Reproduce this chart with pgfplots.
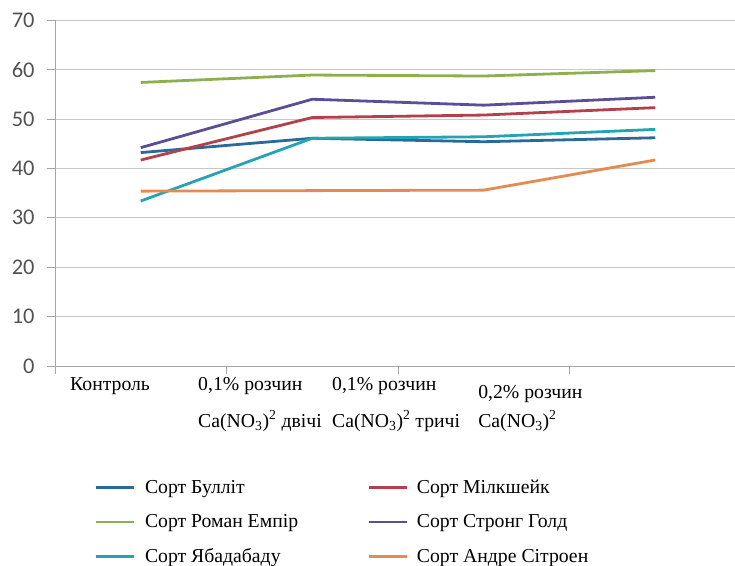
\documentclass[border=0pt]{standalone}
\usepackage{fontspec}
\setmainfont{Liberation Serif}
\newfontfamily\calibri{Carlito}
\usepackage{pgfplots}
\pgfplotsset{compat=1.18}
\definecolor{cBul}{HTML}{2A6A9A}
\definecolor{cMil}{HTML}{B3404A}
\definecolor{cRom}{HTML}{8CB050}
\definecolor{cStr}{HTML}{5B4E96}
\definecolor{cYab}{HTML}{24A3B3}
\definecolor{cAnd}{HTML}{E58A50}
\definecolor{axgray}{HTML}{A6A6A6}
\definecolor{gridgray}{HTML}{C8C8C8}
\begin{document}
\begin{tikzpicture}
\path[use as bounding box] (-55bp,-200bp) rectangle (680bp,366bp);
\begin{axis}[
 at={(0,0)}, anchor=south west,
 scale only axis, width=680bp, height=345.8bp,
 xmin=-0.5, xmax=3.465, ymin=0, ymax=70,
 axis x line=bottom, axis y line=left,
 axis line style={-, draw=axgray, line width=0.9bp},
 ytick={0,10,...,70}, xtick={-0.5,0.5,1.5,2.5}, xticklabels={},
 ymajorgrids, grid style={draw=gridgray, line width=0.9bp},
 tick align=outside, major tick length=8bp,
 tick style={draw=axgray, line width=0.9bp},
 yticklabel style={font=\calibri\fontsize{22.5}{26}\selectfont, text=black!68, xshift=-9bp},
 /pgf/number format/assume math mode=true,
 clip=false,
 legend columns=2,
 legend image code/.code={\draw[#1, line width=2.8bp] (0bp,0bp) -- (38bp,0bp);},
 legend cell align=left,
 legend style={at={(0.053,-0.318)}, anchor=north west, draw=none, fill=none,
   font=\fontsize{19.8}{23}\selectfont, row sep=15.5bp,
   /tikz/column 1/.style={column sep=8bp},
   /tikz/column 2/.style={column sep=67bp},
   /tikz/column 3/.style={column sep=7bp}},
 every axis plot/.append style={line width=2.8bp},
]
\addplot[cBul] coordinates {(0,43.2) (1,46.1) (2,45.4) (3,46.2)};
\addlegendentry{Сорт Булліт}
\addplot[cMil] coordinates {(0,41.7) (1,50.3) (2,50.8) (3,52.3)};
\addlegendentry{Сорт Мілкшейк}
\addplot[cRom] coordinates {(0,57.4) (1,58.9) (2,58.7) (3,59.8)};
\addlegendentry{Сорт Роман Емпір}
\addplot[cStr] coordinates {(0,44.2) (1,54.0) (2,52.8) (3,54.4)};
\addlegendentry{Сорт Стронг Голд}
\addplot[cYab] coordinates {(0,33.4) (1,46.1) (2,46.4) (3,47.9)};
\addlegendentry{Сорт Ябадабаду}
\addplot[cAnd] coordinates {(0,35.4) (1,35.5) (2,35.6) (3,41.7)};
\addlegendentry{Сорт Андре Сітроен}
\tikzset{cl/.style={anchor=base west, inner sep=0pt, font=\fontsize{19.8}{23}\selectfont}}
\node[cl] at (axis cs:-0.4125,-4.86) {Контроль};
\node[cl] at (axis cs:0.334,-4.86) {0,1\% розчин};
\node[cl] at (axis cs:0.334,-12.35) {Ca(NO\textsubscript{3})\textsuperscript{2} двічі};
\node[cl] at (axis cs:1.115,-4.86) {0,1\% розчин};
\node[cl] at (axis cs:1.115,-12.35) {Ca(NO\textsubscript{3})\textsuperscript{2} тричі};
\node[cl] at (axis cs:1.967,-6.48) {0,2\% розчин};
\node[cl] at (axis cs:1.967,-12.35) {Ca(NO\textsubscript{3})\textsuperscript{2}};
\end{axis}
\end{tikzpicture}
\end{document}
